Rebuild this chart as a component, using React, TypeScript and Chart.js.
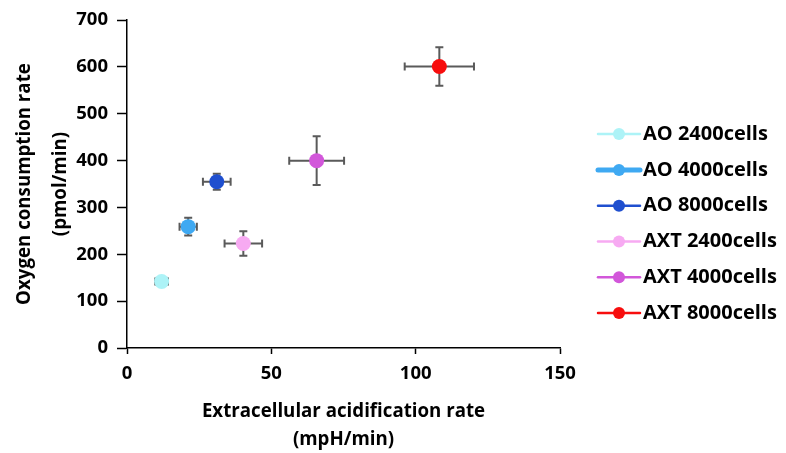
import React, { useEffect, useRef } from "react";
import { Chart, registerables } from "chart.js";

Chart.register(...registerables);

const categories = [
  "AO 2400cells",
  "AO 4000cells",
  "AO 8000cells",
  "AXT 2400cells",
  "AXT 4000cells",
  "AXT 8000cells",
];
const ecar = [12, 21.2, 31.1, 40.3, 65.7, 108.2];
const ocr = [142, 259, 355, 223, 400, 601];
const ecarErr = [2.2, 3, 4.8, 6.5, 9.5, 12];
const ocrErr = [4, 19, 17, 26, 52, 41];
const colors = ["#adf3f7", "#3fa9f2", "#1f4fcf", "#f7aaf2", "#d257da", "#f70d0d"];
const legendLineWidths = [2.5, 5, 2.5, 2.5, 2.5, 2.5];
const xTicks = [0, 50, 100, 150];
const yTicks = [0, 100, 200, 300, 400, 500, 600, 700];

const FONT = "'Open Sans', Lato, sans-serif";

const errorBarPlugin = {
  id: "errorBars",
  beforeDatasetsDraw(chart: any) {
    const { ctx, scales } = chart;
    const xs = scales.x;
    const ys = scales.y;
    ctx.save();
    ctx.strokeStyle = "#5a5a5a";
    ctx.lineWidth = 2;
    const cap = 4;
    chart.data.datasets.forEach((ds: any, i: number) => {
      const p = ds.data[0];
      const cx = xs.getPixelForValue(p.x);
      const cy = ys.getPixelForValue(p.y);
      const xl = xs.getPixelForValue(p.x - ecarErr[i]);
      const xr = xs.getPixelForValue(p.x + ecarErr[i]);
      const yt = ys.getPixelForValue(p.y + ocrErr[i]);
      const yb = ys.getPixelForValue(p.y - ocrErr[i]);
      ctx.beginPath();
      ctx.moveTo(xl, cy);
      ctx.lineTo(xr, cy);
      ctx.moveTo(xl, cy - cap);
      ctx.lineTo(xl, cy + cap);
      ctx.moveTo(xr, cy - cap);
      ctx.lineTo(xr, cy + cap);
      ctx.moveTo(cx, yt);
      ctx.lineTo(cx, yb);
      ctx.moveTo(cx - cap, yt);
      ctx.lineTo(cx + cap, yt);
      ctx.moveTo(cx - cap, yb);
      ctx.lineTo(cx + cap, yb);
      ctx.stroke();
    });
    ctx.restore();
  },
};

const legendPlugin = {
  id: "customLegend",
  afterDraw(chart: any) {
    const { ctx, chartArea } = chart;
    const x0 = chartArea.right + 38;
    const yStart = chartArea.top + 114;
    const step = 35.8;
    ctx.save();
    chart.data.datasets.forEach((ds: any, i: number) => {
      const y = yStart + i * step;
      ctx.strokeStyle = colors[i];
      ctx.lineWidth = legendLineWidths[i];
      ctx.lineCap = "round";
      ctx.beginPath();
      ctx.moveTo(x0, y);
      ctx.lineTo(x0 + 42, y);
      ctx.stroke();
      ctx.fillStyle = colors[i];
      ctx.beginPath();
      ctx.arc(x0 + 21, y, 6, 0, Math.PI * 2);
      ctx.fill();
      ctx.fillStyle = "#000";
      ctx.font = `bold 20px ${FONT}`;
      ctx.textBaseline = "middle";
      ctx.textAlign = "left";
      ctx.fillText(ds.label, x0 + 45, y);
    });
    ctx.restore();
  },
};

export default function App() {
  const ref = useRef<HTMLCanvasElement | null>(null);
  useEffect(() => {
    if (!ref.current) return;
    const chart = new Chart(ref.current, {
      type: "scatter",
      data: {
        datasets: categories.map((label, i) => ({
          label,
          data: [{ x: ecar[i], y: ocr[i] }],
          backgroundColor: colors[i],
          borderColor: colors[i],
          borderWidth: 0,
          pointRadius: 7.5,
          pointHoverRadius: 7.5,
        })),
      },
      options: {
        animation: false,
        responsive: true,
        maintainAspectRatio: false,
        layout: { padding: { top: 20, right: 226, bottom: 0, left: 0 } },
        plugins: {
          legend: { display: false },
          tooltip: { enabled: false },
        },
        scales: {
          x: {
            type: "linear",
            min: 0,
            max: 150,
            afterBuildTicks: (s: any) => {
              s.ticks = xTicks.map((v) => ({ value: v }));
            },
            afterFit: (s: any) => {
              s.height = 105;
            },
            border: { display: true, color: "#000", width: 1.5 },
            grid: {
              display: true,
              drawOnChartArea: false,
              drawTicks: true,
              tickLength: 6,
              tickColor: "#000",
              tickWidth: 1.5,
            },
            ticks: {
              color: "#000",
              padding: 9,
              font: { family: FONT, size: 18.5, weight: "bold" },
            },
            title: {
              display: true,
              text: ["Extracellular acidification rate", "(mpH/min)"],
              color: "#000",
              padding: { top: 0, bottom: -1 },
              font: { family: FONT, size: 18.7, weight: "bold", lineHeight: 1.5 },
            },
          },
          y: {
            type: "linear",
            min: 0,
            max: 700,
            afterBuildTicks: (s: any) => {
              s.ticks = yTicks.map((v) => ({ value: v }));
            },
            afterFit: (s: any) => {
              s.width = 127;
            },
            border: { display: true, color: "#000", width: 1.5 },
            grid: {
              display: true,
              drawOnChartArea: false,
              drawTicks: true,
              tickLength: 10,
              tickColor: "#000",
              tickWidth: 1.5,
            },
            ticks: {
              color: "#000",
              padding: 9,
              font: { family: FONT, size: 18.5, weight: "bold" },
            },
            title: {
              display: true,
              text: ["Oxygen consumption rate", "(pmol/min)"],
              color: "#000",
              padding: { top: 7, bottom: 0 },
              font: { family: FONT, size: 18.7, weight: "bold", lineHeight: 1.9 },
            },
          },
        },
      },
      plugins: [errorBarPlugin, legendPlugin],
    });
    return () => chart.destroy();
  }, []);
  return (
    <div style={{ position: "fixed", left: 0, top: 0, width: 786, height: 453, background: "#fff" }}>
      <canvas ref={ref} />
    </div>
  );
}
